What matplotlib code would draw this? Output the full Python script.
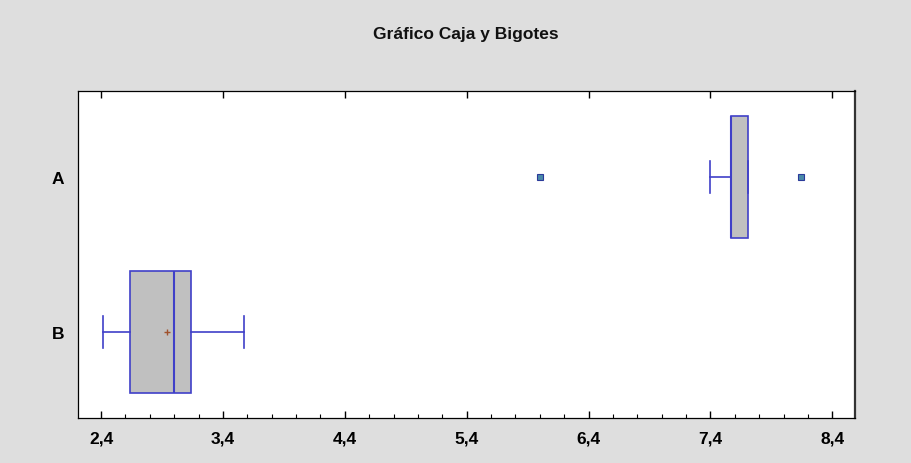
import matplotlib
matplotlib.use("Agg")
import matplotlib.pyplot as plt
from matplotlib.ticker import FixedLocator, MultipleLocator

# ---- data ----
categories = ["B", "A"]
whisker_low = [2.42, 7.40]
q1 = [2.64, 7.57]
median = [3.00, 7.57]
q3 = [3.14, 7.71]
whisker_high = [3.57, 7.71]
outliers = [[], [6.00, 8.14]]
means = [2.94, None]
xticks = [2.4, 3.4, 4.4, 5.4, 6.4, 7.4, 8.4]
xtick_labels = ["2,4", "3,4", "4,4", "5,4", "6,4", "7,4", "8,4"]
title = "Gráfico Caja y Bigotes"

# ---- style ----
font = "Liberation Sans"
blue = "#4040c8"
fig = plt.figure(figsize=(9.12, 4.64), dpi=100, facecolor="#dedede")
ax = fig.add_axes([0.0859, 0.098, 0.8516, 0.7044])
ax.set_facecolor("white")

positions = list(range(1, len(categories) + 1))
stats = []
for i, c in enumerate(categories):
    stats.append(dict(label=c, whislo=whisker_low[i], q1=q1[i], med=median[i],
                      q3=q3[i], whishi=whisker_high[i], fliers=outliers[i]))

ax.bxp(stats, positions=positions, orientation="horizontal", widths=0.79,
       capwidths=0.206, patch_artist=True, showmeans=False,
       boxprops=dict(facecolor="#c0c0c0", edgecolor=blue, linewidth=1.2),
       medianprops=dict(color=blue, linewidth=1.5),
       whiskerprops=dict(color=blue, linewidth=1.2),
       capprops=dict(color=blue, linewidth=1.2),
       flierprops=dict(marker="s", markersize=4, markerfacecolor="#4a8aa8",
                       markeredgecolor="#2a3a9a", markeredgewidth=0.8))

for p, m in zip(positions, means):
    if m is not None:
        ax.plot([m], [p], marker="+", color="#a0522d", markersize=5,
                markeredgewidth=1.0, linestyle="none")

ax.set_xlim(2.214, 8.586)
ax.set_ylim(0.448, 2.557)

ax.xaxis.set_major_locator(FixedLocator(xticks))
ax.set_xticklabels(xtick_labels, fontfamily=font, fontweight="bold", fontsize=12.5)
ax.xaxis.set_minor_locator(MultipleLocator(0.2))
ax.tick_params(axis="x", which="major", direction="in", length=5, width=1,
               top=True, bottom=True, pad=9, color="black")
ax.tick_params(axis="x", which="minor", direction="in", length=3, width=0.8,
               top=False, bottom=True, color="black")

ax.set_yticks(positions)
ax.set_yticklabels(categories, fontfamily=font, fontweight="bold", fontsize=12.5)
ax.tick_params(axis="y", length=0, pad=10)

for s in ["left", "top", "bottom"]:
    ax.spines[s].set_linewidth(0.9)
    ax.spines[s].set_color("black")
ax.spines["right"].set_linewidth(1.6)
ax.spines["right"].set_color("#333333")

fig.text(0.511, 0.926, title, ha="center", va="center", fontfamily=font,
         fontweight="bold", fontsize=12.5, color="#111111")

fig.savefig("out.png", dpi=100, facecolor=fig.get_facecolor())
